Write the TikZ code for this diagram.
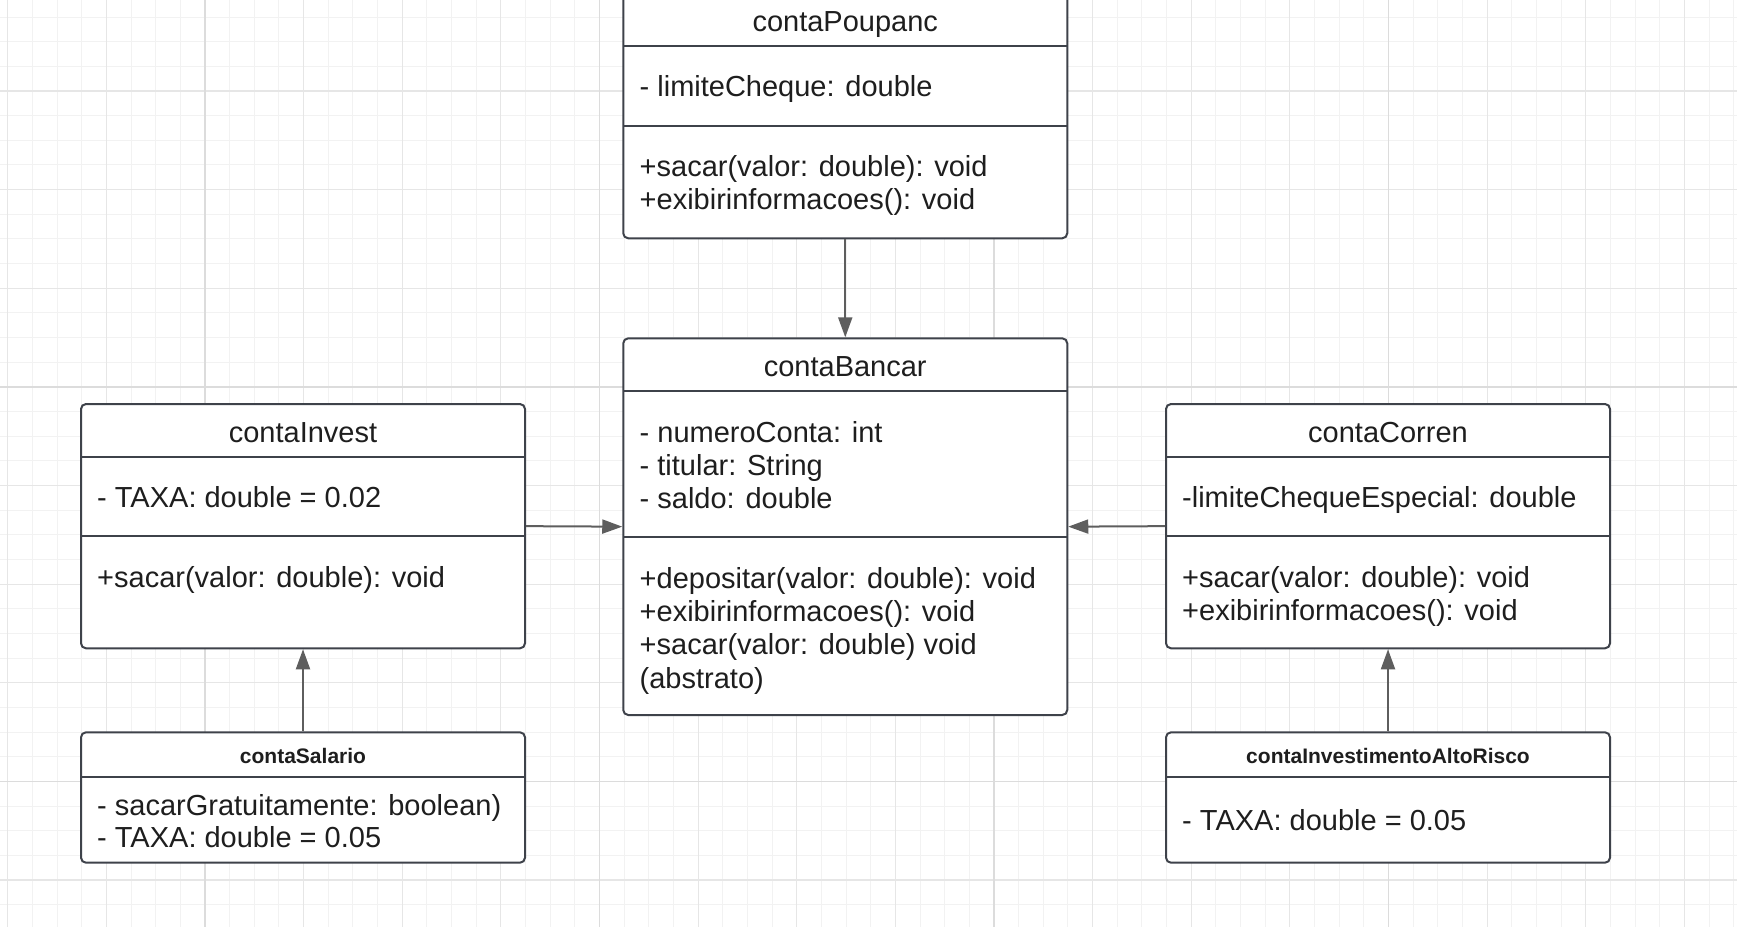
\documentclass[tikz,border=0pt]{standalone}
\usepackage{fontspec}
\setmainfont{Liberation Sans}
\usetikzlibrary{arrows.meta}
\definecolor{gminorc}{HTML}{F2F2F2}
\definecolor{gmedc}{HTML}{E6E6E6}
\definecolor{gmajc}{HTML}{DCDCDC}
\definecolor{borderc}{HTML}{3E424A}
\definecolor{arrowc}{HTML}{5E5E5E}
\definecolor{textc}{HTML}{1E1E1E}
\tikzset{
  gminor/.style={draw=gminorc, line width=1pt},
  gmed/.style={draw=gmedc, line width=1.2pt},
  gmaj/.style={draw=gmajc, line width=1.8pt},
  cls/.style={draw=borderc, fill=white, line width=2pt, rounded corners=5pt, minimum width=444pt, inner sep=0pt},
  divline/.style={draw=borderc, line width=2pt},
  conn/.style={draw=arrowc, line width=2pt, -{Triangle[length=20pt,width=14pt]}},
  txt/.style={anchor=base west, inner sep=0pt, text=textc, font=\fontsize{29}{34}\selectfont},
  ttl/.style={anchor=base, inner sep=0pt, text=textc, font=\fontsize{29}{34}\selectfont},
  bttl/.style={anchor=base, inner sep=0pt, text=textc, font=\fontsize{21}{25}\selectfont\bfseries},
}
\begin{document}
\begin{tikzpicture}[x=1pt,y=-1pt]
\useasboundingbox (0,0) rectangle (1737,927);
\clip (0,0) rectangle (1737,927);
\fill[white] (0,0) rectangle (1737,927);
% grid
\foreach \k in {-8,...,62} \draw[gminor] ({205+\k*24.65625},0) -- ++(0,927);
\foreach \k in {-15,...,21} \draw[gminor] (0,{386.9+\k*24.65625}) -- ++(1737,0);
\foreach \k in {-8,-4,...,60} \draw[gmed] ({205+\k*24.65625},0) -- ++(0,927);
\foreach \k in {-12,-8,...,20} \draw[gmed] (0,{386.9+\k*24.65625}) -- ++(1737,0);
\foreach \k in {0,16,32,48} \draw[gmaj] ({205+\k*24.65625},0) -- ++(0,927);
\foreach \k in {0,16} \draw[gmaj] (0,{386.9+\k*24.65625}) -- ++(1737,0);

% contaPoupanc
\node[cls, minimum height=244.3pt] (poup) at (845.25,116.15) {};
\draw[divline] (623.25,46) -- (1067.25,46);
\draw[divline] (623.25,125.7) -- (1067.25,125.7);
\node[ttl] (poupT) at (845.25,31) {contaPoupanc};
\node[txt] (poupA1) at (639.5,96.5) {- limiteCheque: double};
\node[txt] (poupM1) at (639.5,176) {+sacar(valor: double): void};
\node[txt] (poupM2) at (639.5,209.2) {+exibirinformacoes(): void};

% contaBancar
\node[cls, minimum height=376.7pt] (bancar) at (845.25,526.65) {};
\draw[divline] (623.25,390.7) -- (1067.25,390.7);
\draw[divline] (623.25,536.5) -- (1067.25,536.5);
\node[ttl] (bancarT) at (845.25,376) {contaBancar};
\node[txt] (bancarA1) at (639.5,442) {- numeroConta: int};
\node[txt] (bancarA2) at (639.5,475.2) {- titular: String};
\node[txt] (bancarA3) at (639.5,508.4) {- saldo: double};
\node[txt] (bancarM1) at (639.5,588.4) {+depositar(valor: double): void};
\node[txt] (bancarM2) at (639.5,621.6) {+exibirinformacoes(): void};
\node[txt] (bancarM3) at (639.5,654.8) {+sacar(valor: double) void};
\node[txt] (bancarM4) at (639.5,688) {(abstrato)};

% contaInvest
\node[cls, minimum height=244.3pt] (invest) at (303,526.15) {};
\draw[divline] (81,456.7) -- (525,456.7);
\draw[divline] (81,535.7) -- (525,535.7);
\node[ttl] (investT) at (303,442) {contaInvest};
\node[txt] (investA1) at (97,507.5) {- TAXA: double = 0.02};
\node[txt] (investM1) at (97,587) {+sacar(valor: double): void};

% contaCorren
\node[cls, minimum height=244.3pt] (corren) at (1388,526.15) {};
\draw[divline] (1166,456.7) -- (1610,456.7);
\draw[divline] (1166,535.7) -- (1610,535.7);
\node[ttl] (correnT) at (1388,442) {contaCorren};
\node[txt] (correnA1) at (1182,507.5) {-limiteChequeEspecial: double};
\node[txt] (correnM1) at (1182,587) {+sacar(valor: double): void};
\node[txt] (correnM2) at (1182,620) {+exibirinformacoes(): void};

% contaSalario
\node[cls, minimum height=130.4pt] (salario) at (303,797.5) {};
\draw[divline] (81,777.3) -- (525,777.3);
\node[bttl] (salarioT) at (303,763.2) {contaSalario};
\node[txt] (salarioA1) at (97,815.3) {- sacarGratuitamente: boolean)};
\node[txt] (salarioA2) at (97,847) {- TAXA: double = 0.05};

% contaInvestimentoAltoRisco
\node[cls, minimum height=130.4pt] (alto) at (1388,797.5) {};
\draw[divline] (1166,777.3) -- (1610,777.3);
\node[bttl] (altoT) at (1388,763.2) {contaInvestimentoAltoRisco};
\node[txt] (altoA1) at (1182,830.3) {- TAXA: double = 0.05};

% connectors
\draw[conn] (poup.south) -- (bancar.north);
\draw[conn] (invest.east) -- (bancar.west);
\draw[conn] (corren.west) -- (bancar.east);
\draw[conn] (salario.north) -- (invest.south);
\draw[conn] (alto.north) -- (corren.south);
\end{tikzpicture}
\end{document}
